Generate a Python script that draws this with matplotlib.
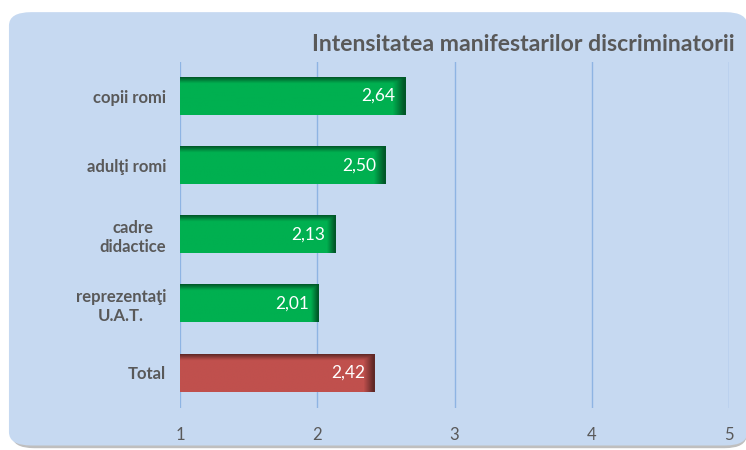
import numpy as np
import matplotlib.pyplot as plt
from matplotlib.patches import FancyBboxPatch
from matplotlib.colors import to_rgb

categories = ['copii romi', 'adulţi romi', 'cadre\ndidactice', 'reprezentaţi\nU.A.T.', 'Total']
values = [2.64, 2.50, 2.13, 2.01, 2.42]
labels = ['2,64', '2,50', '2,13', '2,01', '2,42']
colors = ['#00b050', '#00b050', '#00b050', '#00b050', '#c0504d']
xticks = [1, 2, 3, 4, 5]

BG = '#c6d9f1'
TXT = '#595959'
plt.rcParams['font.family'] = ['Lato', 'DejaVu Sans']

fig = plt.figure(figsize=(7.46, 4.5), dpi=100)
fig.patch.set_facecolor('white')

# rounded background panel with a faint shadow
shadow = FancyBboxPatch((0.016, 0.004), 0.985, 0.955, boxstyle='round,pad=0,rounding_size=0.03',
                        transform=fig.transFigure, facecolor='#bfbfbf', edgecolor='none', zorder=-2)
panel = FancyBboxPatch((0.012, 0.01), 0.99, 0.963, boxstyle='round,pad=0,rounding_size=0.03',
                       transform=fig.transFigure, facecolor=BG, edgecolor='none', zorder=-1)
fig.patches.extend([shadow, panel])

ax = fig.add_axes([0.2413, 0.0944, 0.7359, 0.7689])
ax.set_facecolor('none')

y = np.arange(len(categories))
h = 0.54
ax.barh(y, [v - 1 for v in values], left=1, height=h, color=colors, zorder=2)

# darker shading along the top and right edges of each bar
for yi, v, c in zip(y, values, colors):
    base = np.array(to_rgb(c))
    dark = base * 0.5
    n = 60
    ty = np.linspace(0, 1, n)[:, None]
    tx = np.linspace(0, 1, n)[None, :]
    wy = np.clip((0.16 - ty) / 0.16, 0, 1)
    wx = np.clip((tx - 0.95) / 0.05, 0, 1)
    w = np.maximum(wy, wx)[..., None]
    img = base * (1 - w) + dark * w
    ax.imshow(img, extent=(1, v, yi + h / 2, yi - h / 2), aspect='auto',
              interpolation='bilinear', zorder=3)
    ax.annotate(labels[yi], (v, yi), xytext=(-7, 0), textcoords='offset points',
                ha='right', va='center', color='white', fontsize=12.5, zorder=4)

ax.set_xlim(1, 5)
ax.set_ylim(len(categories) - 0.5, -0.5)
ax.set_xticks(xticks)
ax.set_xticklabels([str(t) for t in xticks])
ax.set_yticks(y)
ax.set_yticklabels(categories, fontweight='bold', fontsize=12, color=TXT,
                   ha='right', multialignment='center')
ax.tick_params(axis='y', length=0, pad=10)
ax.tick_params(axis='x', length=0, pad=14, labelsize=12, labelcolor=TXT)
for s in ax.spines.values():
    s.set_visible(False)
ax.grid(axis='x', color='#8eb4e3', linewidth=1, zorder=1)
ax.axvline(1, color='#dbe6f4', linewidth=1, zorder=1)

fig.text(0.985, 0.902, 'Intensitatea manifestarilor discriminatorii', ha='right', va='center',
         fontsize=16.6, fontweight='bold', color=TXT)

fig.savefig('out.png', dpi=100)
